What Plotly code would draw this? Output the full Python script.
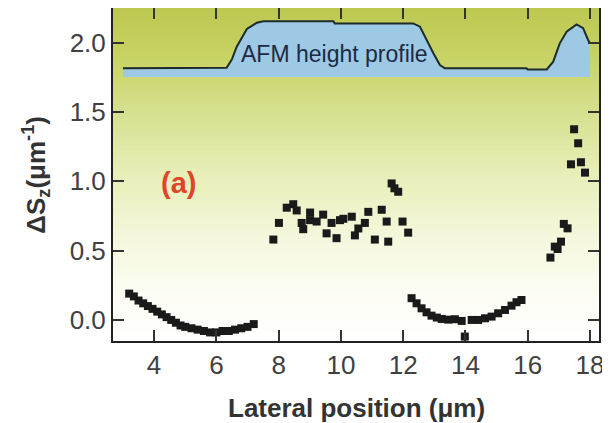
import numpy as np
import plotly.graph_objects as go

# ---- data ----
left_x = [3.2, 3.35, 3.5, 3.65, 3.8, 3.95, 4.1, 4.25, 4.4, 4.55, 4.7, 4.85, 5.0, 5.2,
          5.4, 5.6, 5.8, 6.0, 6.2, 6.4, 6.6, 6.8, 7.0, 7.2]
left_y = [0.19, 0.17, 0.14, 0.12, 0.10, 0.08, 0.06, 0.04, 0.02, 0.0, -0.02, -0.04, -0.05, -0.06,
          -0.07, -0.08, -0.09, -0.09, -0.08, -0.08, -0.07, -0.06, -0.05, -0.03]

mid_x = [7.83, 8.01, 8.26, 8.47, 8.58, 8.74, 8.79, 9.01, 9.01, 9.22, 9.43, 9.54, 9.70, 9.86, 9.97,
         10.08, 10.35, 10.56, 10.45, 10.77, 10.88, 11.09, 11.31, 11.47, 11.52, 11.63, 11.72, 11.84,
         11.98, 12.16]
mid_y = [0.58, 0.70, 0.81, 0.835, 0.79, 0.70, 0.655, 0.775, 0.72, 0.71, 0.76, 0.625, 0.70, 0.59, 0.72,
         0.73, 0.745, 0.66, 0.61, 0.70, 0.78, 0.58, 0.795, 0.71, 0.565, 0.985, 0.95, 0.925,
         0.71, 0.63]

right_x = [12.27, 12.43, 12.59, 12.75, 12.91, 13.08, 13.24, 13.45, 13.66, 13.88, 13.98, 14.2, 14.41,
           14.63, 14.84, 15.05, 15.27, 15.48, 15.64, 15.8]
right_y = [0.157, 0.12, 0.084, 0.055, 0.031, 0.017, 0.007, 0.002, 0.005, -0.007, -0.12, 0.0, 0.0,
           0.012, 0.024, 0.048, 0.072, 0.103, 0.128, 0.144]

edge_x = [17.49, 17.62, 17.39, 17.71, 17.84, 17.16, 17.28, 17.07, 16.87, 16.96, 16.73]
edge_y = [1.376, 1.275, 1.123, 1.138, 1.063, 0.693, 0.661, 0.565, 0.529, 0.512, 0.45]

# AFM height profile (drawn in the same y units)
afm_x = [3.0, 5.8, 5.85, 6.33, 6.5, 6.65, 6.98, 7.3, 7.51, 9.76, 9.8, 12.32, 12.54, 12.70, 12.97,
         13.18, 13.34, 15.96, 16.0, 16.61, 16.82, 17.03, 17.25, 17.57, 17.78, 17.94, 18.0]
afm_y = [1.816, 1.816, 1.82, 1.82, 1.88, 1.97, 2.10, 2.145, 2.155, 2.155, 2.14, 2.14, 2.116, 2.044,
         1.924, 1.84, 1.816, 1.816, 1.808, 1.808, 1.864, 1.996, 2.08, 2.133, 2.105, 2.02, 1.996]
afm_base = 1.753

x_ticks = [4, 6, 8, 10, 12, 14, 16, 18]
y_ticks = [0.0, 0.5, 1.0, 1.5, 2.0]

X_RANGE = [2.68, 18.29]
Y_RANGE = [-0.152, 2.251]

FONT = "Liberation Sans, Arial, sans-serif"

fig = go.Figure()

# gradient background
bg_y = np.linspace(Y_RANGE[0] - 0.2, Y_RANGE[1] + 0.2, 60)
bg_z = [[v, v] for v in bg_y]
fig.add_trace(go.Heatmap(
    x=[X_RANGE[0] - 1, X_RANGE[1] + 1], y=bg_y, z=bg_z,
    zmin=Y_RANGE[0], zmax=Y_RANGE[1], zsmooth="best", showscale=False, hoverinfo="skip",
    colorscale=[[0, "#ffffff"], [0.15, "#fcfdf3"], [0.3, "#f5f8de"], [0.5, "#e8eeb8"],
                [0.7, "#d6df8c"], [0.85, "#c8d366"], [1, "#bcc850"]],
))

# AFM profile fill
fig.add_trace(go.Scatter(
    x=afm_x + [afm_x[-1], afm_x[0]], y=afm_y + [afm_base, afm_base],
    fill="toself", fillcolor="#9ec9e4", mode="lines", line=dict(width=0),
    hoverinfo="skip", showlegend=False,
))
fig.add_trace(go.Scatter(
    x=afm_x, y=afm_y, mode="lines", line=dict(color="#1e2b2b", width=2),
    hoverinfo="skip", showlegend=False,
))

all_x = left_x + mid_x + right_x + edge_x
all_y = left_y + mid_y + right_y + edge_y
fig.add_trace(go.Scatter(
    x=all_x, y=all_y, mode="markers",
    marker=dict(symbol="square", size=8, color="#1a1a1a", line=dict(width=0)),
    showlegend=False,
))

fig.add_annotation(x=9.81, y=1.917, text="AFM height profile", showarrow=False,
                   font=dict(family=FONT, size=23, color="#1c2a45"))
fig.add_annotation(x=4.78, y=0.986, text="<b>(a)</b>", showarrow=False,
                   font=dict(family=FONT, size=29, color="#e0452a"))

# axis titles
fig.add_annotation(xref="paper", yref="paper", x=0.5, y=-0.2, xanchor="center", yanchor="middle",
                   text="<b>Lateral position (μm)</b>", showarrow=False,
                   font=dict(family=FONT, size=26, color="#333333"))
fig.add_annotation(xref="paper", yref="paper", x=-0.16, y=0.5, xanchor="center", yanchor="middle",
                   textangle=-90, text="<b>ΔS<sub>z</sub>(μm<sup>-1</sup>)</b>", showarrow=False,
                   font=dict(family=FONT, size=26, color="#333333"))

axis_common = dict(showline=True, linecolor="#222222", linewidth=2, mirror="ticks",
                   ticks="inside", ticklen=11, tickwidth=1.5, tickcolor="#333333",
                   showgrid=False, zeroline=False, automargin=False,
                   tickfont=dict(family=FONT, size=26, color="#404040"))

fig.update_xaxes(range=X_RANGE, tickvals=x_ticks, ticktext=[str(v) for v in x_ticks],
                 **axis_common)
fig.update_yaxes(range=Y_RANGE, tickvals=y_ticks, ticktext=[f"{v:.1f}" for v in y_ticks],
                 **axis_common)

# page body has an 8px margin, so the figure is sized to fit the 610x423 window
fig.update_layout(width=602, height=415, margin=dict(l=105, r=11, t=0, b=82),
                  plot_bgcolor="white", paper_bgcolor="white", showlegend=False)

fig.write_html("out.html")
